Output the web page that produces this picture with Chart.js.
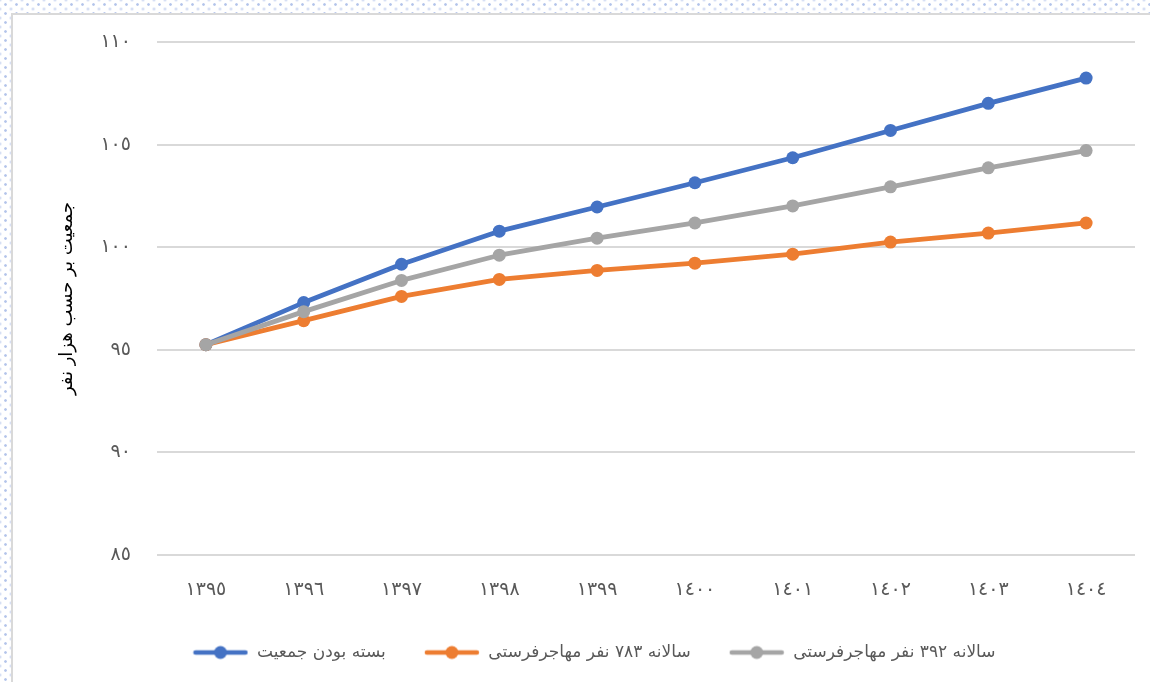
<!DOCTYPE html>
<html>
<head>
<meta charset="utf-8">
<script src="https://cdn.jsdelivr.net/npm/chart.js@4.4.0/dist/chart.umd.min.js"></script>
<style>
  html, body { margin: 0; padding: 0; }
  body {
    width: 1150px; height: 682px; overflow: hidden; position: relative;
    background-color: #ffffff;
    background-image:
      radial-gradient(circle, #b3c4ea 0.9px, rgba(179,196,234,0) 1.7px),
      radial-gradient(circle, #cbd6f0 0.9px, rgba(203,214,240,0) 1.7px);
    background-size: 11px 9px, 11px 9px;
    background-position: 0 0, 5.5px 4.5px;
  }
  #frame {
    position: absolute; left: 11px; top: 13px; width: 1139px; height: 669px;
    border-left: 2px solid #d9d9d9; border-top: 2px solid #d9d9d9;
    background: #ffffff;
  }
  #wrap { position: absolute; left: 0; top: 0; width: 1137px; height: 667px; }
</style>
</head>
<body>
<div id="frame"><div id="wrap"><canvas id="myChart"></canvas></div></div>
<script>
// years (shown with Arabic-Indic digits)
var categories = ["١٣٩٥", "١٣٩٦", "١٣٩٧", "١٣٩٨", "١٣٩٩", "١٤٠٠", "١٤٠١", "١٤٠٢", "١٤٠٣", "١٤٠٤"];

var closedPop = [95.25, 97.30, 99.17, 100.78, 101.96, 103.14, 104.36, 105.69, 107.01, 108.24];
var migr783 = [95.25, 96.42, 97.60, 98.43, 98.87, 99.22, 99.66, 100.25, 100.69, 101.18];
var migr392 = [95.25, 96.86, 98.38, 99.61, 100.44, 101.18, 102.01, 102.94, 103.87, 104.71];

var seriesNames = ["بسته بودن جمعیت", "سالانه ۷۸۳ نفر مهاجرفرستی", "سالانه ۳۹۲ نفر مهاجرفرستی"];

var yTickValues = [85, 90, 95, 100, 105, 110];
var yTickLabels = ["٨٥", "٩٠", "٩٥", "١٠٠", "١٠٥", "١١٠"];

var yTitle = "جمعیت بر حسب هزار نفر";

var colors = ["#4472c4", "#ed7d31", "#a5a5a5"];
var textColor = "#595959";
var fontFamily = "'DejaVu Sans', sans-serif";

// legend marker: short line with a dot, like excel
function legendMarker(color) {
  var c = document.createElement("canvas");
  c.width = 56; c.height = 16;
  var g = c.getContext("2d");
  g.strokeStyle = color;
  g.lineWidth = 4.5;
  g.lineCap = "round";
  g.beginPath(); g.moveTo(3, 8); g.lineTo(53, 8); g.stroke();
  g.fillStyle = color;
  g.beginPath(); g.arc(28, 8, 6.5, 0, Math.PI * 2); g.fill();
  return c;
}
var markers = colors.map(legendMarker);

var ctx = document.getElementById("myChart").getContext("2d");
var myChart = new Chart(ctx, {
  type: "line",
  data: {
    labels: categories,
    datasets: [
      { label: seriesNames[0], data: closedPop, borderColor: colors[0], backgroundColor: colors[0], order: 2 },
      { label: seriesNames[1], data: migr783, borderColor: colors[1], backgroundColor: colors[1], order: 1 },
      { label: seriesNames[2], data: migr392, borderColor: colors[2], backgroundColor: colors[2], order: 0 },
    ],
  },
  options: {
    responsive: true,
    maintainAspectRatio: false,
    animation: false,
    layout: { padding: { left: 40, right: 15, top: 27, bottom: 11 } },
    elements: {
      line: { borderWidth: 4.8, tension: 0, borderCapStyle: "round", borderJoinStyle: "round" },
      point: { radius: 6.5, hoverRadius: 6.5, pointStyle: "circle", borderWidth: 0 },
    },
    scales: {
      x: {
        offset: true,
        grid: { display: false },
        border: { display: false },
        ticks: { color: textColor, font: { family: fontFamily, size: 19 }, padding: 16, maxRotation: 0 },
        afterFit: function (scale) { scale.height = 51; },
      },
      y: {
        min: 85,
        max: 110,
        border: { display: false },
        grid: { color: "#d9d9d9", lineWidth: 2, drawTicks: false },
        ticks: {
          stepSize: 5,
          padding: 26,
          color: textColor,
          font: { family: fontFamily, size: 19 },
          callback: function (v) {
            var i = yTickValues.indexOf(v);
            return i >= 0 ? yTickLabels[i] : "";
          },
        },
        title: {
          display: true,
          text: yTitle,
          color: "#000000",
          font: { family: fontFamily, size: 18 },
          padding: { top: 4, bottom: 0 },
        },
        afterFit: function (scale) {
          scale.width = 104;
          scale.paddingTop = 0;
          scale.paddingBottom = 0;
        },
      },
    },
    plugins: {
      legend: {
        position: "bottom",
        labels: {
          color: textColor,
          font: { family: fontFamily, size: 17 },
          usePointStyle: true,
          pointStyleWidth: 56,
          padding: 38,
          sort: function (a, b) { return a.datasetIndex - b.datasetIndex; },
          generateLabels: function (chart) {
            var items = Chart.defaults.plugins.legend.labels.generateLabels(chart);
            items.forEach(function (it) { it.pointStyle = markers[it.datasetIndex]; });
            return items;
          },
        },
      },
      tooltip: { enabled: false },
    },
  },
});
</script>
</body>
</html>
